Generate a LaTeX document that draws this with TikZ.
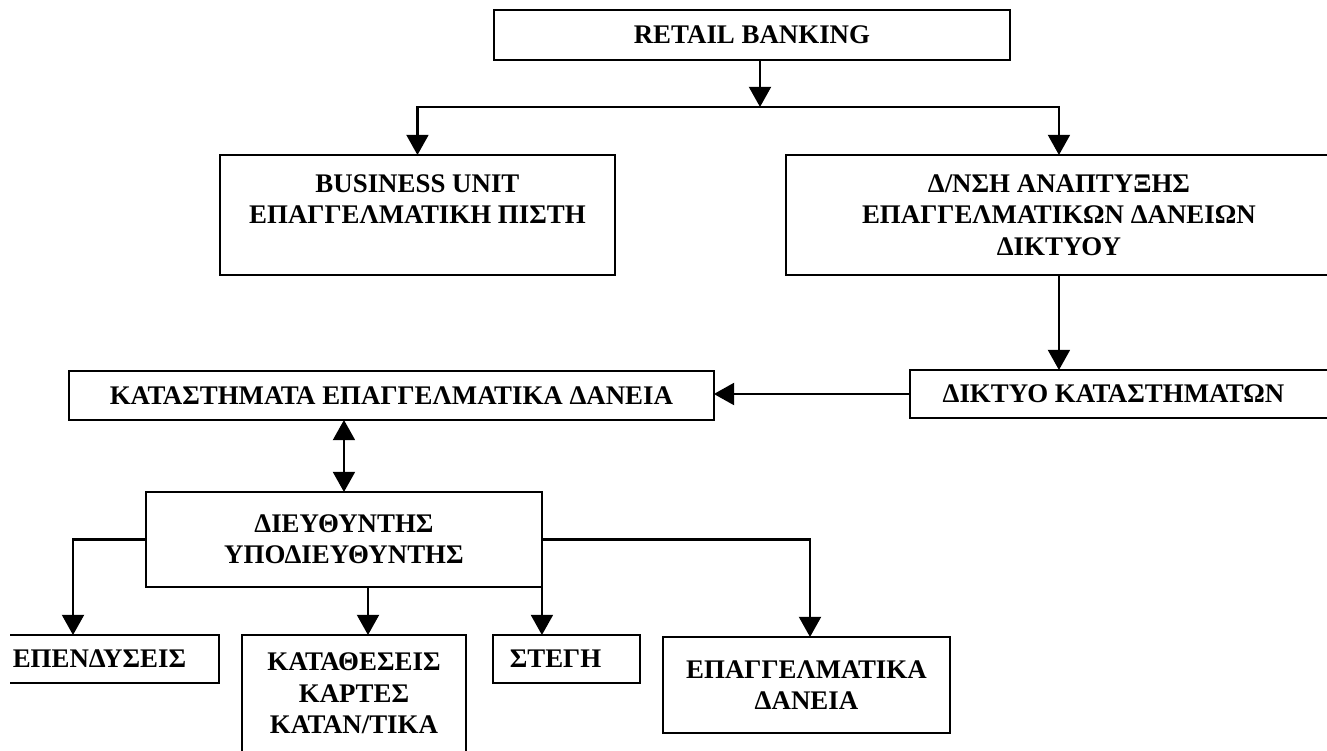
\documentclass[tikz,border=0pt]{standalone}
\usepackage{fontspec}
\setmainfont{Liberation Serif}
\usetikzlibrary{arrows.meta}
\begin{document}
\begin{tikzpicture}[x=0.02cm,y=-0.02cm,
  box/.style={draw, line width=1.3pt, inner sep=0pt, outer sep=0pt, align=center,
    font=\fontsize{15.3}{17.8}\selectfont\bfseries, anchor=north west},
  arr/.style={line width=1.3pt, -{Triangle[length=11.5pt,width=12.5pt]}},
  darr/.style={line width=1.3pt, {Triangle[length=11.5pt,width=12.5pt]}-{Triangle[length=11.5pt,width=12.5pt]}}]
\useasboundingbox (0,0) rectangle (1327,750);
\clip (0,0) rectangle (1327,750);

\node[box, minimum width=10.32cm, minimum height=1cm] (retail) at (494,10) {RETAIL BANKING};
\node[box, minimum width=7.9cm, minimum height=2.4cm] (business) at (220,155) {BUSINESS UNIT\\ΕΠΑΓΓΕΛΜΑΤΙΚΗ ΠΙΣΤΗ\\~};
\node[box, minimum width=10.92cm, minimum height=2.4cm] (dnsh) at (786,155) {Δ/ΝΣΗ ΑΝΑΠΤΥΞΗΣ\\ΕΠΑΓΓΕΛΜΑΤΙΚΩΝ ΔΑΝΕΙΩΝ\\ΔΙΚΤΥΟΥ};
\node[box, minimum width=8.44cm, minimum height=0.96cm] (diktyo) at (910,370) {ΔΙΚΤΥΟ ΚΑΤΑΣΤΗΜΑΤΩΝ\hspace*{0.3cm}};
\node[box, minimum width=12.9cm, minimum height=0.98cm] (katas) at (69,371) {ΚΑΤΑΣΤΗΜΑΤΑ ΕΠΑΓΓΕΛΜΑΤΙΚΑ ΔΑΝΕΙΑ};
\node[box, minimum width=7.92cm, minimum height=1.9cm] (diey) at (146,492) {ΔΙΕΥΘΥΝΤΗΣ\\ΥΠΟΔΙΕΥΘΥΝΤΗΣ};
\node[box, draw=none, minimum width=4.18cm, minimum height=0.96cm] (epend) at (10,635) {ΕΠΕΝΔΥΣΕΙΣ\hspace*{0.6cm}};
\draw[line width=1.3pt] (epend.north west) -- (epend.north east) -- (epend.south east) -- (epend.south west);
\node[box, minimum width=4.48cm, minimum height=2.34cm] (katath) at (242,635) {ΚΑΤΑΘΕΣΕΙΣ\\ΚΑΡΤΕΣ\\ΚΑΤΑΝ/ΤΙΚΑ};
\node[box, minimum width=2.94cm, minimum height=0.96cm] (stegi) at (493,635) {ΣΤΕΓΗ\hspace*{0.44cm}};
\node[box, minimum width=5.74cm, minimum height=1.92cm] (epag) at (663,637) {ΕΠΑΓΓΕΛΜΑΤΙΚΑ\\ΔΑΝΕΙΑ};

\coordinate (hub) at (760,107);
\coordinate (epc) at (73,635);
\coordinate (ktc) at (368,635);
\coordinate (egc) at (810,637);

\draw[arr] (hub |- retail.south) -- (hub);
\draw[arr] (hub) -| (business.north);
\draw[arr] (hub) -| (dnsh.north);
\draw[arr] (dnsh.south) -- (dnsh.south |- diktyo.north);
\draw[arr] (diktyo.west) -- (diktyo.west -| katas.east);
\draw[darr] (diey.north |- katas.south) -- (diey.north);
\draw[arr] (diey.west) -| (epc);
\draw[arr] (ktc |- diey.south) -- (ktc);
\draw[arr] (diey.south east) -- (diey.south east |- stegi.north);
\draw[arr] (diey.east) -| (egc);
\end{tikzpicture}
\end{document}
